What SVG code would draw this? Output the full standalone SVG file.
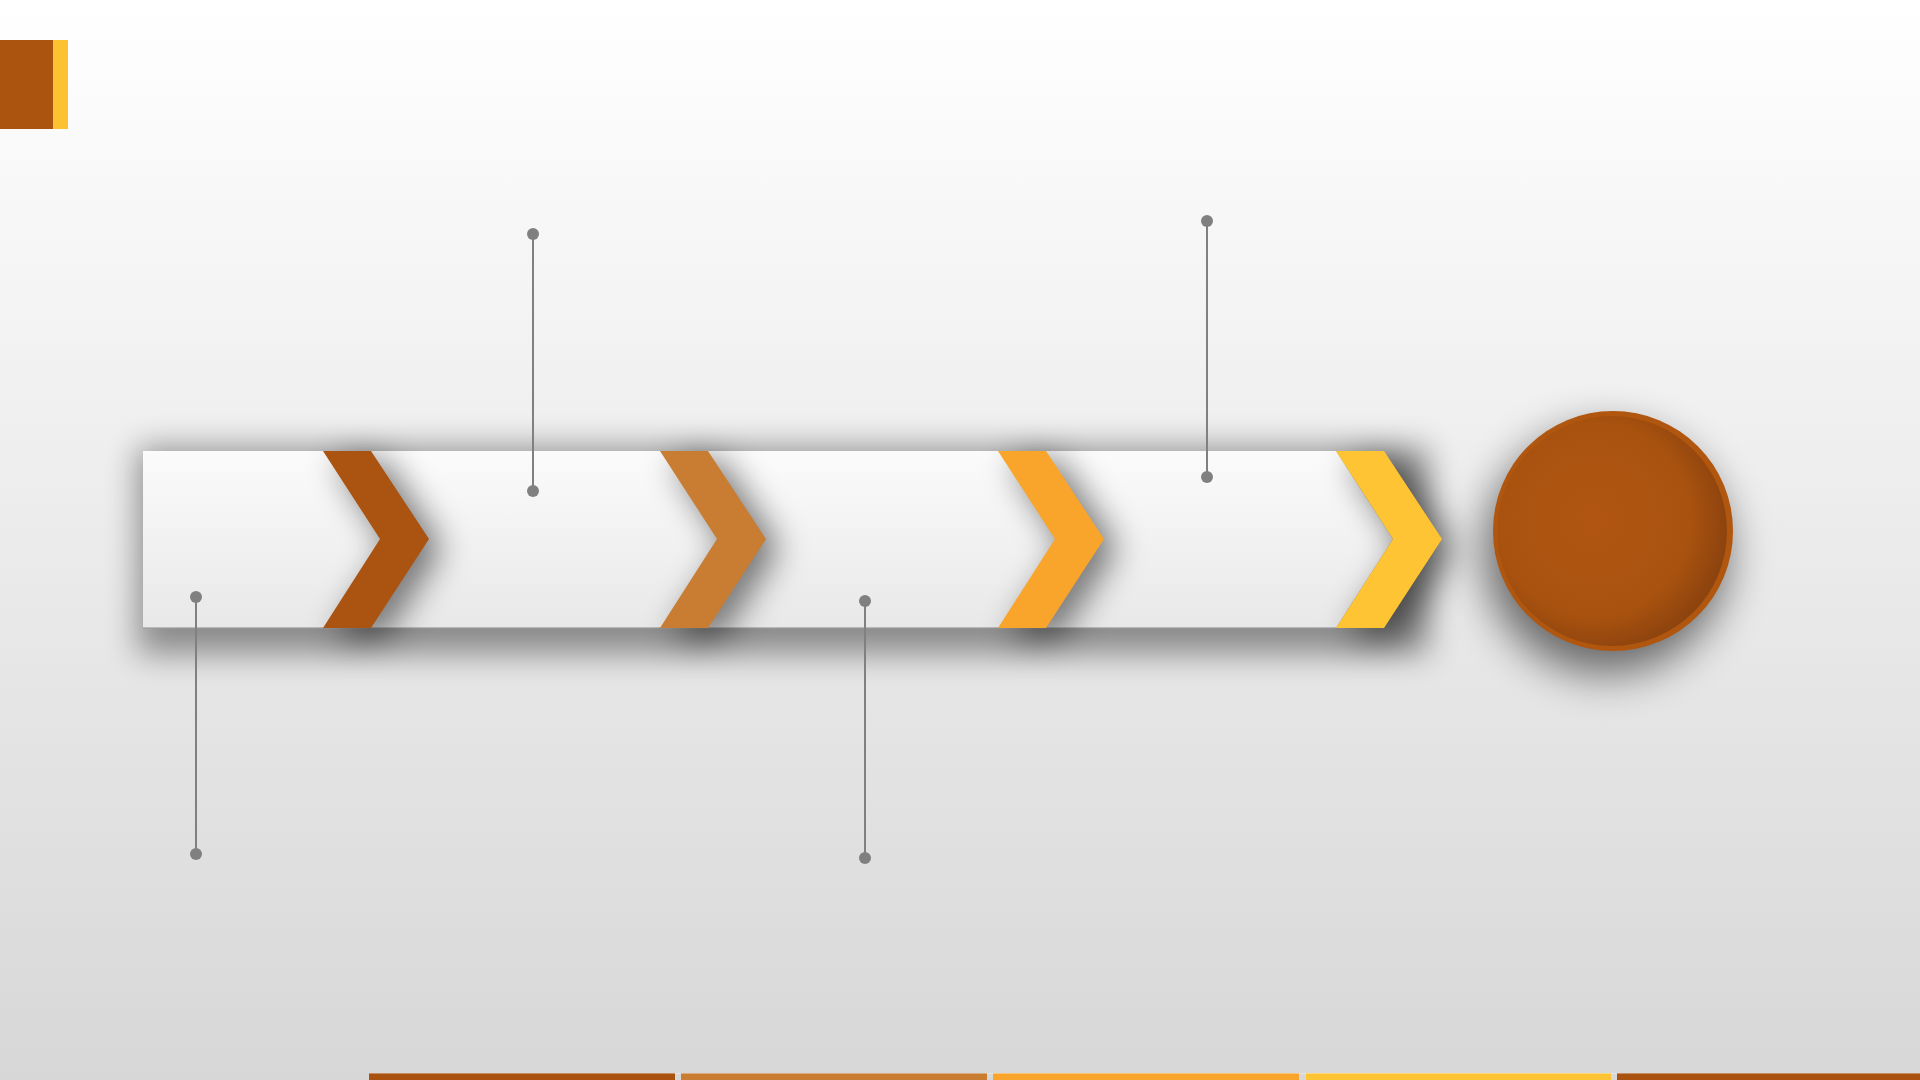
<svg xmlns="http://www.w3.org/2000/svg" width="1920" height="1080" viewBox="0 0 1920 1080">
<defs>
<linearGradient id="bg" x1="0" y1="0" x2="0" y2="1">
<stop offset="0" stop-color="#ffffff"/>
<stop offset="1" stop-color="#d7d7d7"/>
</linearGradient>
<linearGradient id="barFill" x1="0" y1="0" x2="0" y2="1">
<stop offset="0" stop-color="#fbfbfb"/>
<stop offset="1" stop-color="#e8e8e8"/>
</linearGradient>
<radialGradient id="circFill" cx="0.42" cy="0.45" r="0.6">
<stop offset="0" stop-color="#b05612"/>
<stop offset="0.7" stop-color="#a9520f"/>
<stop offset="1" stop-color="#8a420e"/>
</radialGradient>
<filter id="blurBig" x="-20%" y="-80%" width="140%" height="260%">
<feGaussianBlur stdDeviation="16"/>
</filter>
<filter id="blurMed" x="-100%" y="-50%" width="300%" height="200%">
<feGaussianBlur stdDeviation="17"/>
</filter>
<filter id="blurCirc" x="-50%" y="-50%" width="200%" height="200%">
<feGaussianBlur stdDeviation="22"/>
</filter>
<polygon id="chev" points="0,0 48,0 106,88 48,177 0,177 57,88"/>
<style>
.lead{stroke:#808080;stroke-width:2;fill:none}
.dot{fill:#808080}
.shadow{fill:#000000}
</style>
</defs>

<rect x="0" y="0" width="1920" height="1080" fill="url(#bg)"/>

<g id="corner-mark">
<rect x="0" y="40" width="53" height="89" fill="#ab5410"/>
<rect x="53" y="40" width="15" height="89" fill="#fdc232"/>
</g>

<g id="timeline-bar">
<rect class="shadow" x="138" y="448" width="1290" height="206" opacity="0.4" filter="url(#blurBig)"/>
<polygon points="143,451 1336,451 1393,539 1336,628 143,628" fill="url(#barFill)"/>
<line x1="143" y1="628" x2="1336" y2="628" stroke="#9a9a9a" stroke-width="2" opacity="0.6"/>
</g>

<g id="step-1">
<use href="#chev" x="335" y="460" class="shadow" opacity="0.55" filter="url(#blurMed)"/>
<use href="#chev" x="323" y="451" fill="#ab5411"/>
</g>
<g id="step-2">
<use href="#chev" x="672" y="460" class="shadow" opacity="0.55" filter="url(#blurMed)"/>
<use href="#chev" x="660" y="451" fill="#c87d33"/>
</g>
<g id="step-3">
<use href="#chev" x="1010" y="460" class="shadow" opacity="0.55" filter="url(#blurMed)"/>
<use href="#chev" x="998" y="451" fill="#f9a52b"/>
</g>
<g id="step-4">
<use href="#chev" x="1348" y="460" class="shadow" opacity="0.55" filter="url(#blurMed)"/>
<use href="#chev" x="1336" y="451" fill="#fec434"/>
</g>

<g id="end-circle">
<circle cx="1606" cy="552" r="122" class="shadow" opacity="0.55" filter="url(#blurCirc)"/>
<circle cx="1613" cy="531" r="120" fill="#b0560f"/>
<circle cx="1612" cy="531" r="115" fill="url(#circFill)"/>
</g>

<g id="connectors">
<line class="lead" x1="196" y1="597" x2="196" y2="854"/>
<circle class="dot" cx="196" cy="597" r="6"/>
<circle class="dot" cx="196" cy="854" r="6"/>
<line class="lead" x1="533" y1="234" x2="533" y2="491"/>
<circle class="dot" cx="533" cy="234" r="6"/>
<circle class="dot" cx="533" cy="491" r="6"/>
<line class="lead" x1="865" y1="601" x2="865" y2="858"/>
<circle class="dot" cx="865" cy="601" r="6"/>
<circle class="dot" cx="865" cy="858" r="6"/>
<line class="lead" x1="1207" y1="221" x2="1207" y2="477"/>
<circle class="dot" cx="1207" cy="221" r="6"/>
<circle class="dot" cx="1207" cy="477" r="6"/>
</g>

<g id="footer-bars">
<rect x="369" y="1073" width="306" height="7" fill="#a9520f"/>
<rect x="681" y="1073" width="306" height="7" fill="#c87d33"/>
<rect x="993" y="1073" width="306" height="7" fill="#f9a52b"/>
<rect x="1306" y="1073" width="305" height="7" fill="#fec434"/>
<rect x="1617" y="1073" width="303" height="7" fill="#a9520f"/>
<rect x="369" y="1073" width="1551" height="1" fill="#ffffff" opacity="0.35"/>
</g>
</svg>
